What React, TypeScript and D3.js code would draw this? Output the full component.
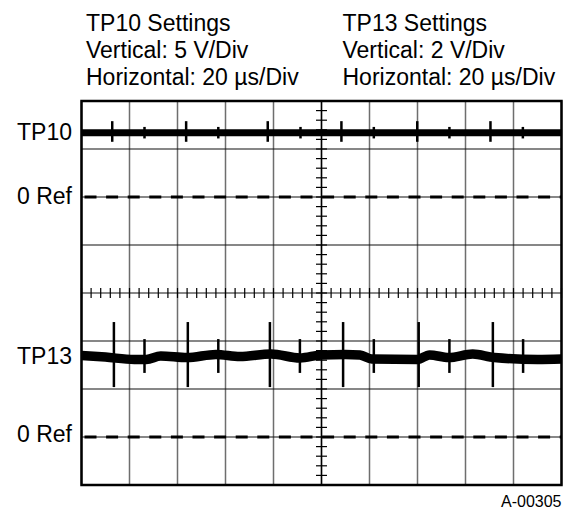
import * as d3 from "d3";
import { useEffect, useRef } from "react";

// scope screen: 10 x 8 divisions, 20 µs/div
const timeDomain = [0, 200];
const xDivs = 10;
const yDivs = 8;

const tp10Header = ["TP10 Settings", "Vertical: 5 V/Div", "Horizontal: 20 µs/Div"];
const tp13Header = ["TP13 Settings", "Vertical: 2 V/Div", "Horizontal: 20 µs/Div"];

// TP10: 5 V/div, 0 Ref two divisions above centre
const tp10Times = [0, 200];
const tp10Volts = [6.7, 6.7];
const tp10TallSpikes = [12.8, 43.6, 77.6, 108.3, 139.9, 170.4];
const tp10ShortSpikes = [26.25, 57.0, 91.25, 121.8, 153.3, 183.9];
const tp10TallRange = [5.75, 7.9];
const tp10ShortRange = [6.1, 7.3];

// TP13: 2 V/div, 0 Ref three divisions below centre
const tp13Times = [0, 10, 22, 27, 33, 44, 56, 66, 79, 91, 100, 110, 116, 121, 140, 145, 153, 163, 172, 190, 200];
const tp13Volts = [3.4, 3.33, 3.23, 3.23, 3.38, 3.31, 3.44, 3.35, 3.46, 3.29, 3.42, 3.44, 3.42, 3.25, 3.23, 3.42, 3.31, 3.46, 3.31, 3.23, 3.25];
const tp13TallSpikes = [13.5, 44.3, 78.5, 109.0, 140.5, 171.4];
const tp13ShortSpikes = [26.25, 57.0, 91.0, 121.8, 153.3, 184.0];
const tp13TallRange = [2.08, 4.79];
const tp13ShortRange = [2.67, 4.08];

const FONT = "'Liberation Sans', Arial, sans-serif";

const App = () => {
  const svgRef = useRef<SVGSVGElement>(null);

  useEffect(() => {
    const w = 566;
    const h = 508;
    const left = 81.5, right = 561.5, top = 101, bottom = 485;

    const svg = d3.select(svgRef.current).attr("width", w).attr("height", h);
    svg.selectAll("*").remove();

    const x = d3.scaleLinear().domain(timeDomain).range([left, right]);
    const yDiv = d3.scaleLinear().domain([-yDivs / 2, yDivs / 2]).range([bottom, top]);
    const channel = (refDiv: number, voltsPerDiv: number) =>
      d3.scaleLinear().domain([0, voltsPerDiv]).range([yDiv(refDiv), yDiv(refDiv + 1)]);
    const y10 = channel(2, 5);
    const y13 = channel(-3, 2);

    const divTimes = d3.range(0, xDivs + 1).map((i) => timeDomain[0] + (i * (timeDomain[1] - timeDomain[0])) / xDivs);
    const divRows = d3.range(-yDivs / 2, yDivs / 2 + 1);

    // grid
    svg.append("g").selectAll("line").data(divTimes).join("line")
      .attr("x1", (d) => x(d)).attr("x2", (d) => x(d))
      .attr("y1", top).attr("y2", bottom)
      .attr("stroke", "#6e6e6e").attr("stroke-width", 1.5);
    svg.append("g").selectAll("line").data(divRows).join("line")
      .attr("x1", left).attr("x2", right)
      .attr("y1", (d) => yDiv(d)).attr("y2", (d) => yDiv(d))
      .attr("stroke", "#111").attr("stroke-width", 1.1);

    // centre graticule with minor ticks
    const midT = (timeDomain[0] + timeDomain[1]) / 2;
    svg.append("line")
      .attr("x1", x(midT)).attr("x2", x(midT)).attr("y1", top).attr("y2", bottom)
      .attr("stroke", "#000").attr("stroke-width", 1.4);
    svg.append("g").selectAll("line").data(d3.range(timeDomain[0], timeDomain[1] + 0.01, 4)).join("line")
      .attr("x1", (d) => x(d)).attr("x2", (d) => x(d))
      .attr("y1", yDiv(0) - 5).attr("y2", yDiv(0) + 5)
      .attr("stroke", "#000").attr("stroke-width", 1.2);
    svg.append("g").selectAll("line").data(d3.range(-yDivs / 2, yDivs / 2 + 0.01, 0.2)).join("line")
      .attr("x1", x(midT) - 5.5).attr("x2", x(midT) + 5.5)
      .attr("y1", (d) => yDiv(d)).attr("y2", (d) => yDiv(d))
      .attr("stroke", "#000").attr("stroke-width", 1.2);

    // 0 Ref dashed lines
    [y10(0), y13(0)].forEach((yy) => {
      svg.append("line")
        .attr("x1", left + 3).attr("x2", right).attr("y1", yy).attr("y2", yy)
        .attr("stroke", "#000").attr("stroke-width", 3)
        .attr("stroke-dasharray", "12,9.6");
    });

    // traces
    const line10 = d3.line<number>().x((d, i) => x(tp10Times[i])).y((d) => y10(d));
    svg.append("path").attr("d", line10(tp10Volts))
      .attr("fill", "none").attr("stroke", "#000").attr("stroke-width", 7);

    const line13 = d3.line<number>()
      .x((d, i) => x(tp13Times[i])).y((d) => y13(d))
      .curve(d3.curveMonotoneX);
    svg.append("path").attr("d", line13(tp13Volts))
      .attr("fill", "none").attr("stroke", "#000").attr("stroke-width", 9.5)
      .attr("stroke-linejoin", "round");

    const spikes = (times: number[], range: number[], ys: d3.ScaleLinear<number, number>) => {
      svg.append("g").selectAll("line").data(times).join("line")
        .attr("x1", (d) => x(d)).attr("x2", (d) => x(d))
        .attr("y1", ys(range[0])).attr("y2", ys(range[1]))
        .attr("stroke", "#000").attr("stroke-width", 2.5);
    };
    spikes(tp10TallSpikes, tp10TallRange, y10);
    spikes(tp10ShortSpikes, tp10ShortRange, y10);
    spikes(tp13TallSpikes, tp13TallRange, y13);
    spikes(tp13ShortSpikes, tp13ShortRange, y13);

    // frame
    svg.append("rect")
      .attr("x", left).attr("y", top).attr("width", right - left).attr("height", bottom - top)
      .attr("fill", "none").attr("stroke", "#000").attr("stroke-width", 2.5);

    // headers
    const header = (lines: string[], tx: number) => {
      svg.append("g").selectAll("text").data(lines).join("text")
        .attr("x", tx).attr("y", (d, i) => 31 + i * 27)
        .attr("font-family", FONT).attr("font-size", 23).attr("fill", "#000")
        .text((d) => d);
    };
    header(tp10Header, 86);
    header(tp13Header, 342.5);

    // side labels
    const labels = [
      { text: "TP10", y: y10(tp10Volts[0]) },
      { text: "0 Ref", y: y10(0) },
      { text: "TP13", y: y13(tp13Volts[0]) + 2 },
      { text: "0 Ref", y: y13(0) - 2 },
    ];
    svg.append("g").selectAll("text").data(labels).join("text")
      .attr("x", left - 9.5).attr("y", (d) => d.y + 7)
      .attr("text-anchor", "end")
      .attr("font-family", FONT).attr("font-size", 23).attr("fill", "#000")
      .text((d) => d.text);

    svg.append("text")
      .attr("x", right).attr("y", 506.5).attr("text-anchor", "end")
      .attr("font-family", FONT).attr("font-size", 16).attr("fill", "#000")
      .text("A-00305");
  }, []);

  return <svg ref={svgRef} style={{ position: "absolute", left: 0, top: 0, background: "#fff" }}></svg>;
};

export default App;
